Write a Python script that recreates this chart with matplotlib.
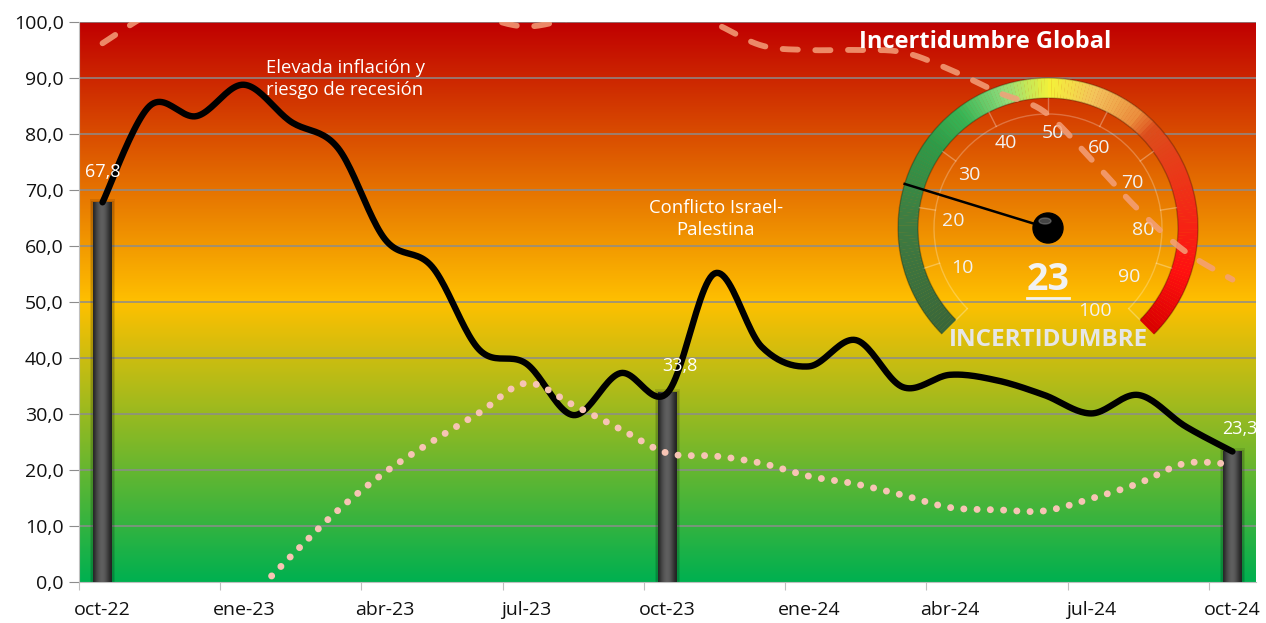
import numpy as np
import matplotlib
matplotlib.use("Agg")
import matplotlib.pyplot as plt
from matplotlib.colors import LinearSegmentedColormap
from matplotlib.patches import Wedge, Circle, Ellipse, Arc, Rectangle

plt.rcParams['font.family'] = ['Open Sans', 'DejaVu Sans']

# ---- data ----
meses = ['oct-22', 'nov-22', 'dic-22', 'ene-23', 'feb-23', 'mar-23', 'abr-23',
         'may-23', 'jun-23', 'jul-23', 'ago-23', 'sep-23', 'oct-23', 'nov-23',
         'dic-23', 'ene-24', 'feb-24', 'mar-24', 'abr-24', 'may-24', 'jun-24',
         'jul-24', 'ago-24', 'sep-24', 'oct-24']
indice = [67.8, 85.0, 83.2, 88.8, 82.2, 77.5, 61.2, 56.3, 41.5, 39.0, 29.8,
          37.3, 33.8, 55.1, 42.0, 38.5, 43.2, 34.8, 37.0, 36.0, 33.4, 30.1,
          33.4, 27.8, 23.3]
serie_alta = [96.2, 101.5, 105.0, 107.0, 107.5, 106.5, 105.0, 103.0, 101.0,
              99.2, 100.8, 103.0, 103.5, 99.8, 95.8, 95.0, 95.0, 94.6, 91.5,
              87.5, 84.0, 75.5, 66.5, 59.0, 54.0]
serie_baja = [np.nan, np.nan, np.nan, -4.0, 4.6, 12.8, 19.6, 25.1, 30.2, 35.5,
              31.6, 27.3, 23.0, 22.5, 21.2, 18.9, 17.5, 15.5, 13.3, 12.9, 12.7,
              14.9, 17.6, 21.2, 21.0]
barras_mes = ['oct-22', 'oct-23', 'oct-24']
barras_val = [67.8, 33.8, 23.3]
etiquetas_y = ['0,0', '10,0', '20,0', '30,0', '40,0', '50,0', '60,0', '70,0',
               '80,0', '90,0', '100,0']
gauge_valor = 23
gauge_marcas = [10, 20, 30, 40, 50, 60, 70, 80, 90, 100]


def suavizar(xs, ys, n=24):
    # Excel-like smoothed line (Bezier through points, tension 1/6)
    xs = np.asarray(xs, float)
    ys = np.asarray(ys, float)
    ok = ~np.isnan(ys)
    xs, ys = xs[ok], ys[ok]
    m = len(xs)
    t = np.linspace(0, 1, n)
    ox, oy = [], []
    for k in range(m - 1):
        a = max(k - 1, 0)
        d = min(k + 2, m - 1)
        p0 = np.array([xs[k], ys[k]])
        p3 = np.array([xs[k + 1], ys[k + 1]])
        p1 = p0 + (p3 - np.array([xs[a], ys[a]])) / 6
        p2 = p3 - (np.array([xs[d], ys[d]]) - p0) / 6
        b = ((1 - t) ** 3)[:, None] * p0 + (3 * (1 - t) ** 2 * t)[:, None] * p1 \
            + (3 * (1 - t) * t ** 2)[:, None] * p2 + (t ** 3)[:, None] * p3
        ox.extend(b[:, 0])
        oy.extend(b[:, 1])
    return np.array(ox), np.array(oy)


W, H = 1266, 623
fig = plt.figure(figsize=(W / 100, H / 100), dpi=100)
ax = fig.add_axes([79 / W, 1 - 582 / H, 1177 / W, 560 / H])
ax.set_zorder(1)
x = np.arange(len(meses))

# background gradient green -> yellow -> red
fondo = LinearSegmentedColormap.from_list('fondo', ['#00B050', '#FFC000', '#C00000'])
ax.imshow(np.linspace(0, 1, 256).reshape(-1, 1), extent=[-0.5, len(meses) - 0.5, 0, 100],
          origin='lower', aspect='auto', cmap=fondo, zorder=0)
for v in range(10, 101, 10):
    ax.axhline(v, color='#8c8c8c', lw=1.1, zorder=1)

# cylinder-like bars with a soft shadow
shade = np.array([[0.16, 0.25, 0.32, 0.36, 0.38, 0.35, 0.29, 0.21, 0.14]])
for mes, val in zip(barras_mes, barras_val):
    i = meses.index(mes)
    ax.add_patch(Rectangle((i - 0.27, 0), 0.54, val + 0.6, color='black',
                           alpha=0.1, lw=0, zorder=2))
    ax.add_patch(Rectangle((i - 0.235, 0), 0.47, val + 0.3, color='black',
                           alpha=0.12, lw=0, zorder=2))
    ax.imshow(shade, extent=[i - 0.2, i + 0.2, 0, val], aspect='auto',
              cmap='gray', vmin=0, vmax=1, zorder=3, interpolation='bicubic')
ax.set_xlim(-0.5, len(meses) - 0.5)
ax.set_ylim(0, 100)

sx, sy = suavizar(x, indice)
ax.plot(sx, sy, color='black', lw=4.6, solid_capstyle='round', zorder=4)
bx, by = suavizar(x, serie_baja)
ax.plot(bx, by, color='#F7C4B4', lw=5.0, linestyle=(0, (0.01, 1.9)),
        dash_capstyle='round', zorder=5)

# data labels
offs = [(0, 22), (9, 19), (5, 16)]
for mes, val, o in zip(barras_mes, barras_val, offs):
    ax.annotate(f'{val:.1f}'.replace('.', ','), (meses.index(mes), val),
                xytext=o, textcoords='offset points', ha='center', va='center',
                color='white', fontsize=13, zorder=6)

ax.text(5.15, 89.8, 'Elevada inflación y\nriesgo de recesión', ha='center', va='center',
        color='white', fontsize=13.3, linespacing=1.3, zorder=6)
ax.text(13.03, 64.8, 'Conflicto Israel-\nPalestina', ha='center', va='center',
        color='white', fontsize=13.3, linespacing=1.3, zorder=6)

# axes styling
ax.set_yticks(range(0, 101, 10))
ax.set_yticklabels(etiquetas_y)
ax.set_xticks(np.arange(-0.5, len(meses) - 1, 3))
ax.set_xticklabels([])
ax.set_xticks(x[::3], minor=True)
ax.set_xticklabels(meses[::3], minor=True)
ax.tick_params(axis='y', length=7, color='#8c8c8c', labelsize=14, labelcolor='#111111', pad=4)
ax.tick_params(axis='x', which='major', length=6, color='#bfbfbf')
ax.tick_params(axis='x', which='minor', length=0, labelsize=14, labelcolor='#111111', pad=14)
for s in ['top', 'right']:
    ax.spines[s].set_visible(False)
for s in ['left', 'bottom']:
    ax.spines[s].set_color('#bfbfbf')

# ---- gauge ----
S = 175
cx, cy = 1048, 228
gx = fig.add_axes([(cx - S) / W, (H - cy - S) / H, 2 * S / W, 2 * S / H])
gx.set_zorder(2)
gx.set_xlim(-S, S)
gx.set_ylim(-S, S)
gx.set_axis_off()
gx.patch.set_alpha(0)


def ang(v):
    return 225 - 2.7 * v


arco = LinearSegmentedColormap.from_list('arco', [
    (0.0, '#3a673a'), (0.18, '#3f7d42'), (0.3, '#2e9c48'), (0.36, '#38b555'),
    (0.43, '#8fdc7c'), (0.5, '#f4f238'), (0.57, '#f3c25c'), (0.64, '#eb8e3e'),
    (0.67, '#dc4d1c'), (0.8, '#f32a16'), (0.9, '#ff1010'), (1.0, '#d80000')])
for v in np.arange(0, 100, 0.5):
    gx.add_patch(Wedge((0, 0), 150, ang(v + 0.55), ang(v), width=20,
                       facecolor=arco(v / 100), edgecolor='none'))
gx.add_patch(Arc((0, 0), 300, 300, theta1=-45, theta2=225, color='black', alpha=0.25, lw=1))
gx.add_patch(Arc((0, 0), 260, 260, theta1=-45, theta2=225, color='black', alpha=0.25, lw=1))
gx.add_patch(Arc((0, 0), 228, 228, theta1=-45, theta2=225, color='white', alpha=0.25, lw=1))
for v in range(0, 101, 10):
    a = np.radians(ang(v))
    gx.plot([114 * np.cos(a), 130 * np.cos(a)], [114 * np.sin(a), 130 * np.sin(a)],
            color='white', alpha=0.3, lw=1)
for v in gauge_marcas:
    a = np.radians(90 - (v - 50) * 2.95 - 3)
    gx.text(95 * np.cos(a), 95 * np.sin(a), str(v), ha='center', va='center',
            color='#f2f2f2', fontsize=14)
a = np.radians(ang(gauge_valor))
gx.plot([0, 150 * np.cos(a)], [0, 150 * np.sin(a)], color='black', lw=1.8)
gx.add_patch(Circle((0, 0), 15, color='black'))
gx.add_patch(Ellipse((-3, 7), 12, 6, color='#8a8a8a', alpha=0.5))
gx.text(0, -52, str(gauge_valor), ha='center', va='center', color='#f2f2f2',
        fontsize=27, fontweight='bold')
gx.plot([-21, 21], [-70, -70], color='#f2f2f2', lw=2)
gx.text(0, -112, 'INCERTIDUMBRE', ha='center', va='center', color='#e6e6e6',
        fontsize=17.5, fontweight='bold')

# ---- overlay: dashed series and title ----
ox = fig.add_axes(ax.get_position())
ox.set_zorder(3)
ox.set_xlim(-0.5, len(meses) - 0.5)
ox.set_ylim(0, 100)
ox.set_axis_off()
ox.patch.set_alpha(0)
hx, hy = suavizar(x, serie_alta)
ox.plot(hx, hy, color='#F4A07A', lw=4.2, linestyle=(0, (2.6, 3.0)),
        dash_capstyle='round', alpha=0.85)
ox.text(18.74, 96.4, 'Incertidumbre Global', ha='center', va='center',
        color='white', fontsize=17, fontweight='bold', zorder=6)

fig.savefig('out.png', dpi=100)
